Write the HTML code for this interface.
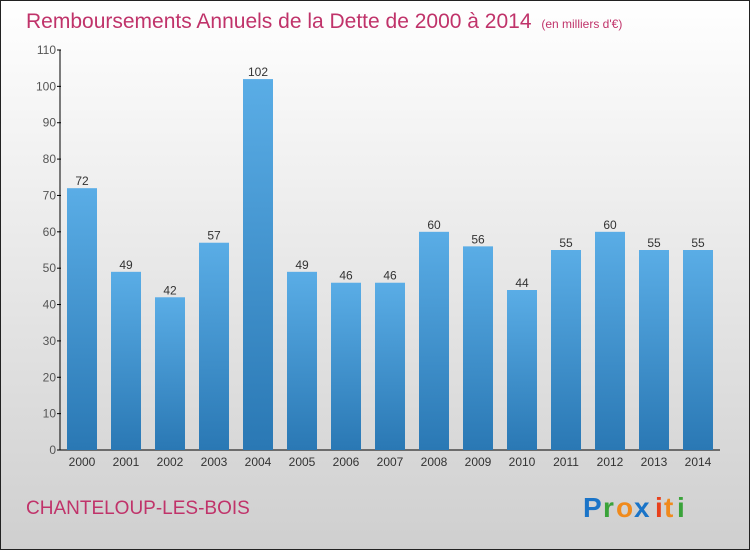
<!DOCTYPE html>
<html><head><meta charset="utf-8"><style>
body{margin:0}
svg text{font-family:"Liberation Sans",sans-serif}
</style></head><body>
<svg id="chart" width="750" height="550" xmlns="http://www.w3.org/2000/svg">
<defs>
<linearGradient id="bg" x1="0" y1="0" x2="0" y2="1"><stop offset="0" stop-color="#ffffff"/><stop offset="1" stop-color="#cfcfcf"/></linearGradient>
<linearGradient id="bar" x1="0" y1="0" x2="0" y2="1"><stop offset="0" stop-color="#5aade6"/><stop offset="1" stop-color="#2a78b4"/></linearGradient>
</defs>
<rect x="0.5" y="0.5" width="749" height="549" fill="url(#bg)" stroke="#222"/>
<text x="26" y="28" font-size="21" fill="#c0336a">Remboursements Annuels de la Dette de 2000 à 2014 <tspan font-size="12" dx="4">(en milliers d'€)</tspan></text>
<text x="26" y="514" font-size="19" fill="#c0336a">CHANTELOUP-LES-BOIS</text>
<g font-size="28" font-weight="bold">
<text x="583" y="517" fill="#1a74c8">P</text><text x="603" y="517" fill="#3aa33a">r</text><text x="616" y="517" fill="#f08a1c">o</text><text x="634" y="517" fill="#1a74c8">x</text><text x="655" y="517" fill="#e8401c">i</text><text x="664" y="517" fill="#f08a1c">t</text><text x="677" y="517" fill="#3aa33a">i</text>
</g>
<g id="axes"></g><g id="bars"></g>
</svg>
<script>
const categories=["2000","2001","2002","2003","2004","2005","2006","2007","2008","2009","2010","2011","2012","2013","2014"];
const values=[72,49,42,57,102,49,46,46,60,56,44,55,60,55,55];
const yTicks=[0,10,20,30,40,50,60,70,80,90,100,110];
const NS="http://www.w3.org/2000/svg";
const y0=450,yTop=50,yMax=110,x0=60,x1=720;
const y=v=>y0-(v/yMax)*(y0-yTop);
const step=(x1-x0-16)/categories.length*1.0;
const xc=i=>82+i*44;
function mk(t,a,p){const e=document.createElementNS(NS,t);for(const k in a)e.setAttribute(k,a[k]);p.appendChild(e);return e;}
const ax=document.getElementById('axes'),bg=document.getElementById('bars');
let l=mk('line',{x1:x0,y1:yTop,x2:x0,y2:y0,stroke:'#000'},ax);


l=mk('line',{x1:x0,y1:y0,x2:x1,y2:y0,stroke:'#000'},ax);


yTicks.forEach(v=>{
 const t=mk('line',{x1:x0-3,y1:y(v),x2:x0+1,y2:y(v),stroke:'#000'},ax);
 
 
 const tx=mk('text',{x:x0-4,y:y(v)+4,'font-size':12,fill:'#555','text-anchor':'end'},ax);
 tx.textContent=v;
 
 
});
categories.forEach((c,i)=>{
 const v=values[i];
 const r=mk('rect',{x:xc(i)-15,y:y(v),width:30,height:y0-y(v),fill:'url(#bar)'},bg);
 
 
 const t=mk('text',{x:xc(i),y:y(v)-3,'font-size':12,fill:'#333','text-anchor':'middle'},bg);
 t.textContent=v;
 
 
 const xl=mk('text',{x:xc(i),y:466,'font-size':12,fill:'#333','text-anchor':'middle'},bg);
 xl.textContent=c;
 
 
});
</script>
</body></html>
